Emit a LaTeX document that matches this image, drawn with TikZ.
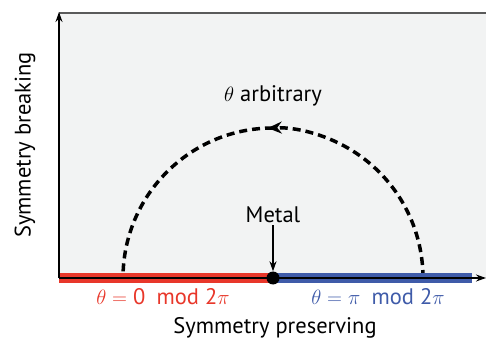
\documentclass[tikz,border=0pt]{standalone}
\usepackage{amsmath,amssymb}
\usepackage{fontspec}
\setmainfont{PT Sans}
\usepackage{tikz}
\usetikzlibrary{arrows.meta}
\usepackage{xcolor}
\definecolor{panelgray}{HTML}{F2F3F3}
\definecolor{framegray}{HTML}{5A5A5A}
\definecolor{zerored}{HTML}{E8372A}
\definecolor{piblue}{HTML}{3F5BA9}

\begin{document}
\begin{tikzpicture}[x=1pt,y=1pt,>={Stealth[length=10pt,width=7pt]},font=\fontsize{22.5}{26}\selectfont,line cap=butt]
\useasboundingbox (-59,-64) rectangle (427,278);
\fill[panelgray] (0,0) rectangle (427,265);
\draw[framegray,line width=1.2pt] (0,265) -- (427,265);
% path through the symmetry breaking region
\draw[line width=3.5pt,dash pattern=on 8pt off 5pt,-{Stealth[length=14pt,width=12pt]}] (364,0) arc[start angle=0,end angle=92,radius=150];
\draw[line width=3.5pt,dash pattern=on 8pt off 5pt] (214,150) arc[start angle=90,end angle=180,radius=150];
% phase bars along the preserving axis
\draw[zerored,line width=9pt] (0,0) -- (214,0);
\draw[piblue,line width=9pt] (214,0) -- (413,0);
\draw[->,line width=1.2pt] (0,0) -- (427,0);
\draw[->,line width=1.2pt] (0,0) -- (0,266);
\node[circle,fill=black,inner sep=0pt,minimum size=13pt] (metal) at (214,0) {};
\node (arb) at (214,182) {$\theta$ arbitrary};
\node[inner sep=2pt] (metallabel) at (214,63) {Metal};
\draw[->,line width=1.2pt] (metallabel.south) -- (metal.north);
\node[text=zerored] (zero) at (104,-19) {$\theta =$ 0\enspace mod 2$\pi$};
\node[text=piblue] (pi) at (319,-19) {$\theta =$ $\pi$\enspace mod 2$\pi$};
\node (pres) at (216,-50) {Symmetry preserving};
\node[rotate=90] (brk) at (-34,133) {Symmetry breaking};
\end{tikzpicture}
\end{document}
